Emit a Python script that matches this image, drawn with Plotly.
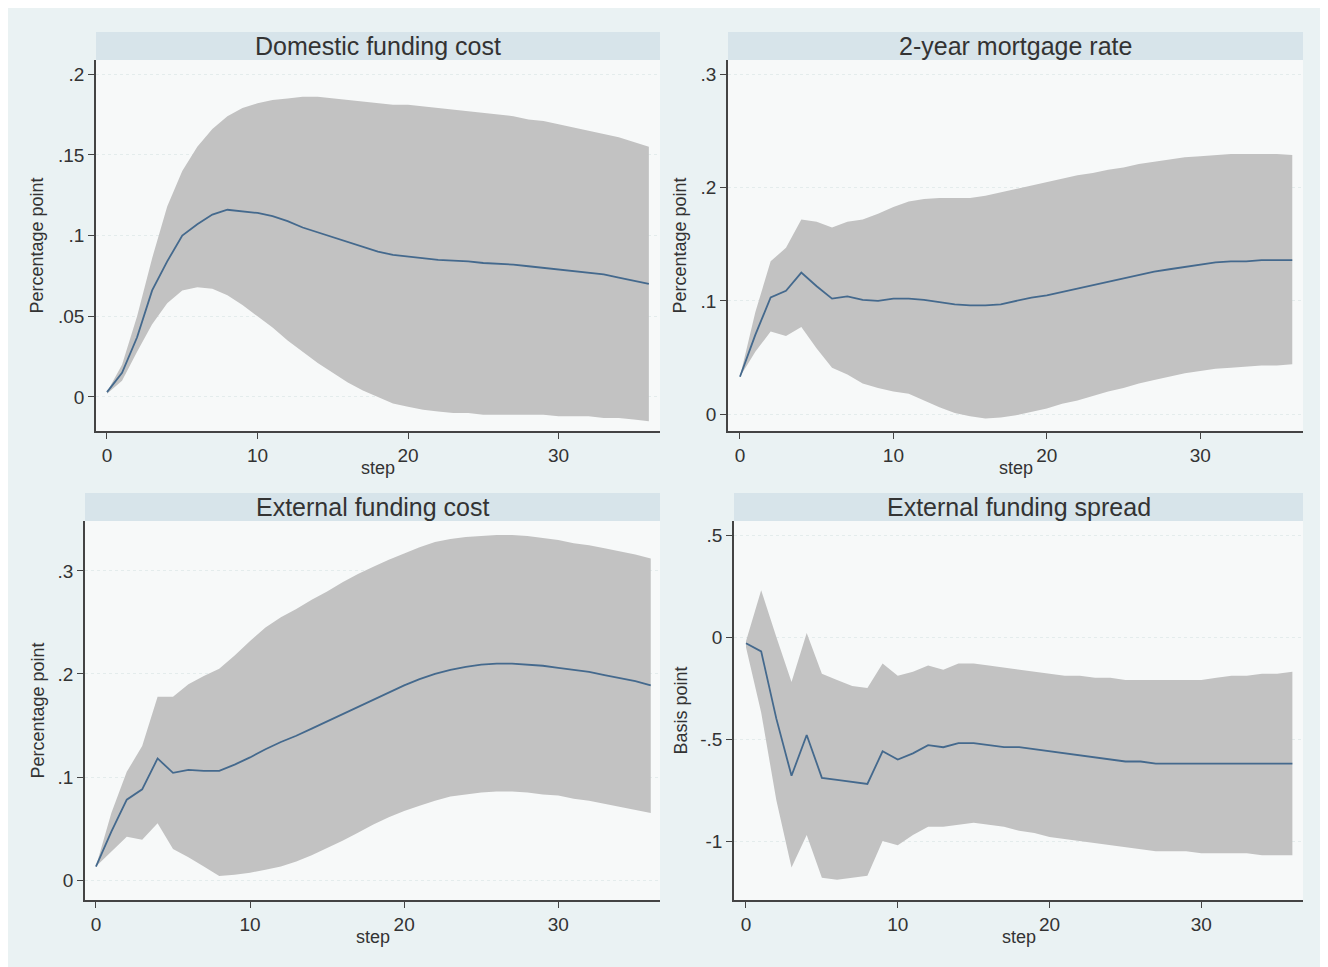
import plotly.graph_objects as go

steps = list(range(37))

# Domestic funding cost
dom_irf = [0.003, 0.015, 0.037, 0.066, 0.084, 0.100, 0.107, 0.113, 0.116, 0.115, 0.114, 0.112,
           0.109, 0.105, 0.102, 0.099, 0.096, 0.093, 0.090, 0.088, 0.087, 0.086, 0.085, 0.0845,
           0.084, 0.083, 0.0825, 0.082, 0.081, 0.080, 0.079, 0.078, 0.077, 0.076, 0.074, 0.072, 0.070]
dom_hi = [0.003, 0.020, 0.050, 0.086, 0.118, 0.140, 0.155, 0.166, 0.174, 0.179, 0.182, 0.184,
          0.185, 0.186, 0.186, 0.185, 0.184, 0.183, 0.182, 0.181, 0.181, 0.180, 0.179, 0.178,
          0.177, 0.176, 0.175, 0.174, 0.172, 0.171, 0.169, 0.167, 0.165, 0.163, 0.161, 0.158, 0.155]
dom_lo = [0.002, 0.010, 0.028, 0.045, 0.058, 0.066, 0.068, 0.067, 0.063, 0.057, 0.050, 0.043,
          0.035, 0.028, 0.021, 0.015, 0.009, 0.004, 0.000, -0.004, -0.006, -0.008, -0.009, -0.010,
          -0.010, -0.011, -0.011, -0.011, -0.011, -0.011, -0.012, -0.012, -0.012, -0.013, -0.013, -0.014, -0.015]

# 2-year mortgage rate
mort_irf = [0.033, 0.070, 0.103, 0.109, 0.125, 0.113, 0.102, 0.104, 0.101, 0.100, 0.102, 0.102,
            0.101, 0.099, 0.097, 0.096, 0.096, 0.097, 0.100, 0.103, 0.105, 0.108, 0.111, 0.114,
            0.117, 0.120, 0.123, 0.126, 0.128, 0.130, 0.132, 0.134, 0.135, 0.135, 0.136, 0.136, 0.136]
mort_hi = [0.033, 0.090, 0.135, 0.147, 0.172, 0.170, 0.165, 0.170, 0.172, 0.177, 0.183, 0.188,
           0.190, 0.191, 0.191, 0.191, 0.193, 0.196, 0.199, 0.202, 0.205, 0.208, 0.211, 0.213,
           0.216, 0.218, 0.221, 0.223, 0.225, 0.227, 0.228, 0.229, 0.230, 0.230, 0.230, 0.230, 0.229]
mort_lo = [0.033, 0.055, 0.073, 0.069, 0.077, 0.058, 0.041, 0.035, 0.027, 0.023, 0.020, 0.018,
           0.012, 0.006, 0.001, -0.002, -0.004, -0.003, -0.001, 0.002, 0.005, 0.009, 0.012, 0.016,
           0.020, 0.023, 0.027, 0.030, 0.033, 0.036, 0.038, 0.040, 0.041, 0.042, 0.043, 0.043, 0.044]

# External funding cost
ext_irf = [0.013, 0.047, 0.078, 0.088, 0.118, 0.104, 0.107, 0.106, 0.106, 0.112, 0.119, 0.127,
           0.134, 0.140, 0.147, 0.154, 0.161, 0.168, 0.175, 0.182, 0.189, 0.195, 0.200, 0.204,
           0.207, 0.209, 0.210, 0.210, 0.209, 0.208, 0.206, 0.204, 0.202, 0.199, 0.196, 0.193, 0.189]
ext_hi = [0.013, 0.065, 0.105, 0.130, 0.178, 0.178, 0.190, 0.198, 0.205, 0.218, 0.232, 0.245,
          0.255, 0.263, 0.272, 0.280, 0.289, 0.297, 0.304, 0.311, 0.317, 0.323, 0.328, 0.331,
          0.333, 0.334, 0.335, 0.335, 0.334, 0.332, 0.330, 0.327, 0.325, 0.322, 0.319, 0.316, 0.312]
ext_lo = [0.013, 0.028, 0.042, 0.039, 0.055, 0.030, 0.022, 0.013, 0.004, 0.005, 0.007, 0.010,
          0.013, 0.018, 0.024, 0.031, 0.038, 0.046, 0.054, 0.061, 0.067, 0.072, 0.077, 0.081,
          0.083, 0.085, 0.086, 0.086, 0.085, 0.083, 0.082, 0.079, 0.077, 0.074, 0.071, 0.068, 0.065]

# External funding spread
spr_irf = [-0.03, -0.07, -0.40, -0.68, -0.48, -0.69, -0.70, -0.71, -0.72, -0.56, -0.60, -0.57,
           -0.53, -0.54, -0.52, -0.52, -0.53, -0.54, -0.54, -0.55, -0.56, -0.57, -0.58, -0.59,
           -0.60, -0.61, -0.61, -0.62, -0.62, -0.62, -0.62, -0.62, -0.62, -0.62, -0.62, -0.62, -0.62]
spr_hi = [-0.02, 0.23, 0.00, -0.22, 0.02, -0.18, -0.21, -0.24, -0.25, -0.13, -0.19, -0.17,
          -0.14, -0.16, -0.13, -0.13, -0.14, -0.15, -0.16, -0.17, -0.18, -0.19, -0.19, -0.20,
          -0.20, -0.21, -0.21, -0.21, -0.21, -0.21, -0.21, -0.20, -0.19, -0.19, -0.18, -0.18, -0.17]
spr_lo = [-0.05, -0.37, -0.80, -1.13, -0.97, -1.18, -1.19, -1.18, -1.17, -1.00, -1.02, -0.97,
          -0.93, -0.93, -0.92, -0.91, -0.92, -0.93, -0.95, -0.96, -0.98, -0.99, -1.00, -1.01,
          -1.02, -1.03, -1.04, -1.05, -1.05, -1.05, -1.06, -1.06, -1.06, -1.06, -1.07, -1.07, -1.07]

titles = ["Domestic funding cost", "2-year mortgage rate", "External funding cost", "External funding spread"]
ytitles = ["Percentage point", "Percentage point", "Percentage point", "Basis point"]
xtitle = "step"
xtick_vals = [0, 10, 20, 30]
xtick_text = ["0", "10", "20", "30"]
ytick_vals = [[0, 0.05, 0.1, 0.15, 0.2], [0, 0.1, 0.2, 0.3], [0, 0.1, 0.2, 0.3], [-1, -0.5, 0, 0.5]]
ytick_text = [["0", ".05", ".1", ".15", ".2"], ["0", ".1", ".2", ".3"], ["0", ".1", ".2", ".3"], ["-1", "-.5", "0", ".5"]]
series = [(dom_irf, dom_lo, dom_hi), (mort_irf, mort_lo, mort_hi),
          (ext_irf, ext_lo, ext_hi), (spr_irf, spr_lo, spr_hi)]

OFF = 8  # page body margin
W, H = 1328 - OFF, 967 - OFF
# target pixel boxes (page coords) of plot regions: (left, right, top, bottom)
boxes = [(96, 660, 60, 431), (728, 1303, 60, 431), (85, 660, 521, 900), (734, 1303, 521, 900)]
ytitle_x = [37, 680, 37, 680]
xranges = [[-0.73, 36.74], [-0.78, 36.7], [-0.71, 36.6], [-0.79, 36.7]]
yranges = [[-0.0211, 0.2088], [-0.015, 0.313], [-0.0194, 0.3485], [-1.289, 0.569]]

BG = "#eaf2f3"
PLOT_BG = "#f7f9f9"
STRIP = "#d7e4ea"
BAND = "#c2c2c2"
LINE = "#44698d"
FONT = "Liberation Sans, Arial, sans-serif"
TXT = "#333333"


def px(x):
    return (x - OFF) / W


def py(y):
    return 1 - (y - OFF) / H


fig = go.Figure()
layout = dict(
    width=W, height=H, paper_bgcolor=BG, plot_bgcolor=PLOT_BG,
    margin=dict(l=0, r=0, t=0, b=0), showlegend=False,
    font=dict(family=FONT, color=TXT),
)
shapes = []
annotations = []
for i in range(4):
    irf, lo, hi = series[i]
    ax = "" if i == 0 else str(i + 1)
    xa, ya = "x" + ax, "y" + ax
    fig.add_trace(go.Scatter(x=steps, y=lo, mode="lines", line=dict(width=0, color=BAND),
                             xaxis=xa, yaxis=ya, hoverinfo="skip"))
    fig.add_trace(go.Scatter(x=steps, y=hi, mode="lines", line=dict(width=0, color=BAND),
                             fill="tonexty", fillcolor=BAND, xaxis=xa, yaxis=ya, hoverinfo="skip"))
    fig.add_trace(go.Scatter(x=steps, y=irf, mode="lines", line=dict(width=1.8, color=LINE),
                             xaxis=xa, yaxis=ya))
    l, r, t, b = boxes[i]
    layout["xaxis" + ax] = dict(
        domain=[px(l), px(r)], range=xranges[i], anchor=ya, tickvals=xtick_vals, ticktext=xtick_text,
        ticks="outside", ticklen=6, tickcolor="#444", showline=True, linecolor="#444", linewidth=1.5,
        showgrid=False, zeroline=False, tickfont=dict(size=19, color=TXT),
    )
    layout["yaxis" + ax] = dict(
        domain=[py(b), py(t)], range=yranges[i], anchor=xa, tickvals=ytick_vals[i], ticktext=ytick_text[i],
        ticks="outside", ticklen=6, tickcolor="#444", showline=True, linecolor="#444", linewidth=1.5,
        showgrid=True, gridcolor="#e4ecec", griddash="dot", gridwidth=1, zeroline=False,
        tickfont=dict(size=19, color=TXT),
    )
    # title strip
    st_top = t - 28
    shapes.append(dict(type="rect", xref="paper", yref="paper", x0=px(l), x1=px(r),
                       y0=py(t), y1=py(st_top), fillcolor=STRIP, line=dict(width=0), layer="below"))
    annotations.append(dict(text=titles[i], xref="paper", yref="paper", x=px((l + r) / 2),
                            y=py(st_top + 14), showarrow=False, xanchor="center", yanchor="middle",
                            font=dict(size=25, color=TXT, family=FONT)))
    # axis titles
    annotations.append(dict(text=xtitle, xref="paper", yref="paper", x=px((l + r) / 2),
                            y=py(b + 37), showarrow=False, xanchor="center", yanchor="middle",
                            font=dict(size=18, color=TXT, family=FONT)))
    annotations.append(dict(text=ytitles[i], xref="paper", yref="paper", x=px(ytitle_x[i]),
                            y=py((t + b) / 2), showarrow=False, xanchor="center", yanchor="middle",
                            textangle=-90, font=dict(size=18, color=TXT, family=FONT)))

layout["shapes"] = shapes
layout["annotations"] = annotations
fig.update_layout(**layout)
fig.write_html("out.html")
